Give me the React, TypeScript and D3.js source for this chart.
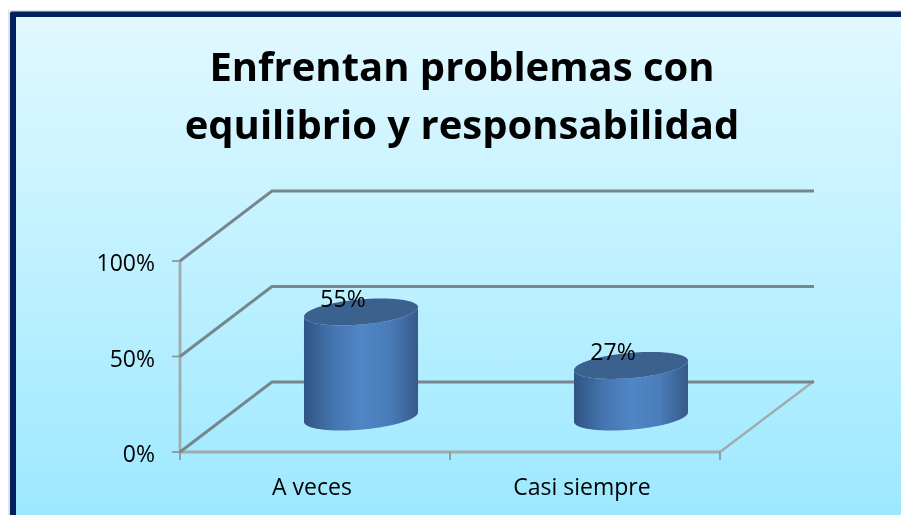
import React from "react";
import * as d3 from "d3";

const categories = ["A veces", "Casi siempre"];
const values = [55, 27];
const valueLabels = ["55%", "27%"];
const yTicks = [0, 50, 100];
const titleLines = ["Enfrentan problemas con", "equilibrio y responsabilidad"];

const W = 901, H = 515;
const x0 = 180, x1 = 720, yBase = 452, yTop = 261;
const depthX = 92, depthY = -70;

const xBand = d3.scaleBand<string>().domain(categories).range([x0, x1]);
const y = d3.scaleLinear().domain([0, 100]).range([yBase, yTop]);

// cylinder cross-section, a circle on the tilted floor plane
const eA = 53.4, eB = 20, eC = 13.5;
const point = (cx: number, cy: number, t: number): [number, number] => [
  cx + eA * Math.cos(t) + eB * Math.sin(t),
  cy - eC * Math.sin(t),
];
const tRight = Math.atan2(eB, eA);
const angles = (from: number, to: number, n = 96) =>
  d3.range(n + 1).map((i) => from + ((to - from) * i) / n);
const line = d3.line<[number, number]>();

const grid = "#75878c";
const axis = "#a0abae";

export default function App() {
  return (
    <svg
      width={W}
      height={H}
      viewBox={`0 0 ${W} ${H}`}
      style={{ position: "fixed", left: 0, top: 0, background: "#fff" }}
    >
      <defs>
        <linearGradient id="bg" x1="0" y1="0" x2="0" y2="1">
          <stop offset="0" stopColor="#e1f8ff" />
          <stop offset="0.5" stopColor="#bff1ff" />
          <stop offset="1" stopColor="#9de8ff" />
        </linearGradient>
        <linearGradient id="cyl" x1="0" y1="0" x2="1" y2="0">
          <stop offset="0" stopColor="#2f5484" />
          <stop offset="0.25" stopColor="#4474ae" />
          <stop offset="0.5" stopColor="#5186c6" />
          <stop offset="0.75" stopColor="#4a7cba" />
          <stop offset="1" stopColor="#365a88" />
        </linearGradient>
        <filter id="soft" x="-5%" y="-5%" width="110%" height="110%">
          <feGaussianBlur stdDeviation="0.6" />
        </filter>
        <filter id="softText" x="-5%" y="-5%" width="110%" height="110%">
          <feGaussianBlur stdDeviation="0.3" />
        </filter>
      </defs>

      <rect x={8} y={10} width={W} height={H} fill="#dfe3e6" />
      <rect x={10} y={11.5} width={W} height={H} fill="#002060" rx={2} />
      <rect x={16} y={17} width={W} height={H - 17} fill="url(#bg)" />

      <g filter="url(#soft)">
        <line x1={x0} x2={x0} y1={yBase} y2={yTop} stroke={axis} strokeWidth={2.8} />
        <line x1={x0} x2={x1} y1={yBase} y2={yBase} stroke={axis} strokeWidth={2.8} />
        <line x1={x1} y1={yBase} x2={x1 + depthX + 2} y2={yBase + depthY - 1} stroke={axis} strokeWidth={2.4} />

        {yTicks.map((t) => (
          <path
            key={t}
            fill="none"
            stroke={grid}
            strokeWidth={3}
            d={
              line([
                [x0, y(t)],
                [x0 + depthX, y(t) + depthY],
                [x1 + depthX + 2, y(t) + depthY],
              ]) ?? ""
            }
          />
        ))}

        {yTicks.map((t) => (
          <line key={t} x1={x0 - 8} x2={x0} y1={y(t)} y2={y(t)} stroke="#8d8d8d" strokeWidth={1.6} />
        ))}
        {[x0, x0 + xBand.bandwidth(), x1].map((v) => (
          <line key={v} x1={v} x2={v} y1={yBase} y2={yBase + 8} stroke="#8d8d8d" strokeWidth={1.6} />
        ))}

        {categories.map((c, i) => {
          const cx = xBand(c)! + xBand.bandwidth() / 2 + depthX / 2;
          const by = yBase + depthY / 2;
          const ty = by - (yBase - y(values[i]));
          const front = angles(Math.PI + tRight, 2 * Math.PI + tRight).map((t) => point(cx, by, t));
          const back = angles(2 * Math.PI + tRight, Math.PI + tRight).map((t) => point(cx, ty, t));
          const top = angles(0, 2 * Math.PI, 192).map((t) => point(cx, ty, t));
          return (
            <g key={c}>
              <path d={(line([...front, ...back]) ?? "") + "Z"} fill="url(#cyl)" />
              <path d={(line(top) ?? "") + "Z"} fill="#3b628f" />
            </g>
          );
        })}
      </g>

      <g filter="url(#softText)">
        <g fontFamily="'Open Sans'" fontWeight={700} fontSize={40} fill="#000" textAnchor="middle">
          {titleLines.map((l, i) => (
            <text key={l} x={462} y={81 + i * 58}>
              {l}
            </text>
          ))}
        </g>

        <g fontFamily="'Open Sans'" fontSize={23} fill="#000" textAnchor="end">
          {yTicks.map((t) => (
            <text key={t} x={155} y={y(t) + 10}>
              {t}%
            </text>
          ))}
        </g>

        <g fontFamily="'Open Sans'" fontSize={23} fill="#000" textAnchor="middle">
          {categories.map((c) => (
            <text key={c} x={xBand(c)! + xBand.bandwidth() / 2 - 3} y={495}>
              {c}
            </text>
          ))}
        </g>

        <g fontFamily="'Open Sans'" fontSize={23} fill="#000" textAnchor="middle">
          {categories.map((c, i) => (
            <text
              key={c}
              x={xBand(c)! + xBand.bandwidth() / 2 + depthX / 2 - 18}
              y={yBase + depthY / 2 - (yBase - y(values[i])) - 5}
            >
              {valueLabels[i]}
            </text>
          ))}
        </g>
      </g>
    </svg>
  );
}
